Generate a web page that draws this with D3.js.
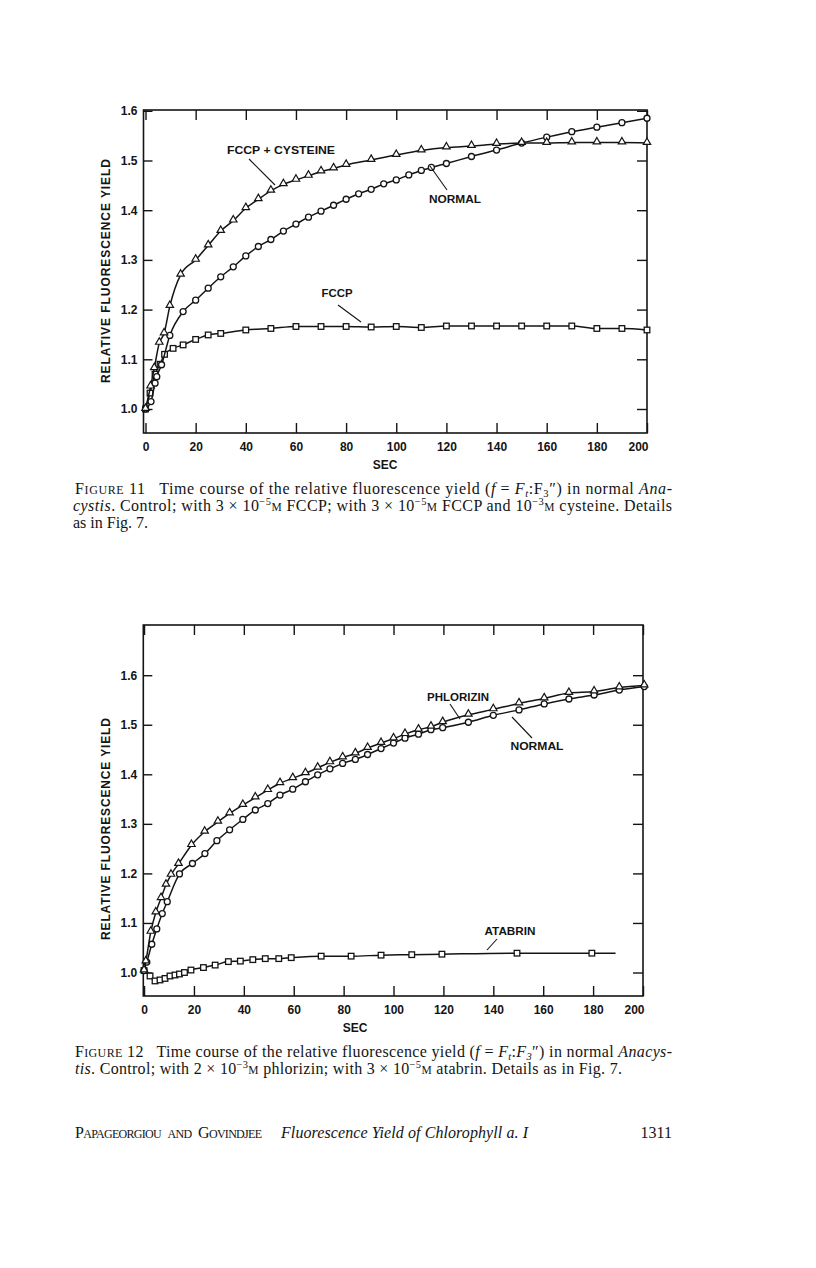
<!DOCTYPE html>
<html><head><meta charset="utf-8">
<script src="https://cdn.jsdelivr.net/npm/d3@7"></script>
<style>body{margin:0;background:#fff}svg{display:block}</style>
</head><body>
<svg id="page" width="816" height="1268"></svg>
<script>
// ---------------- DATA ----------------
const xTickValues = [0, 20, 40, 60, 80, 100, 120, 140, 160, 180, 200];
const yTickValues = [1.0, 1.1, 1.2, 1.3, 1.4, 1.5, 1.6];
const yTickLabels = ["1.0", "1.1", "1.2", "1.3", "1.4", "1.5", "1.6"];

// Figure 11
const fig11CysteineX = [0, 2, 3.5, 5.5, 7.4, 9.7, 14, 20, 25, 30, 35, 40, 45, 50, 55, 60, 65, 70, 75, 80, 90, 100, 110, 120, 130, 140, 150, 160, 170, 180, 190, 200];
const fig11CysteineY = [1.0, 1.045, 1.082, 1.133, 1.152, 1.207, 1.27, 1.30, 1.329, 1.358, 1.379, 1.404, 1.422, 1.439, 1.452, 1.461, 1.469, 1.478, 1.484, 1.491, 1.501, 1.511, 1.520, 1.526, 1.529, 1.533, 1.535, 1.535, 1.536, 1.536, 1.536, 1.535];
const fig11NormalX = [0, 2.2, 3.8, 4.5, 6.4, 9.7, 15, 20, 25, 30, 35, 40, 45, 50, 55, 60, 65, 70, 75, 80, 85, 90, 95, 100, 105, 110, 114, 120, 130, 140, 150, 160, 170, 180, 190, 200];
const fig11NormalY = [1.0, 1.015, 1.052, 1.065, 1.089, 1.148, 1.196, 1.219, 1.243, 1.266, 1.286, 1.308, 1.327, 1.341, 1.358, 1.372, 1.386, 1.398, 1.410, 1.422, 1.433, 1.442, 1.453, 1.461, 1.471, 1.480, 1.486, 1.494, 1.508, 1.521, 1.535, 1.547, 1.558, 1.567, 1.576, 1.585];
const fig11FccpX = [0, 1.8, 3.8, 5.8, 7.6, 11, 15, 20, 25, 30, 40, 50, 60, 70, 80, 90, 100, 110, 120, 130, 140, 150, 160, 170, 180, 190, 200];
const fig11FccpY = [1.0, 1.032, 1.07, 1.09, 1.11, 1.122, 1.129, 1.140, 1.149, 1.152, 1.159, 1.162, 1.166, 1.166, 1.166, 1.165, 1.166, 1.164, 1.167, 1.167, 1.167, 1.167, 1.167, 1.167, 1.162, 1.162, 1.159];

// Figure 12
const fig12PhlorizinX = [0, 0.7, 2.7, 4.7, 6.8, 8.8, 10.8, 13.8, 19, 24.3, 29.6, 34.3, 39.6, 44.6, 49.6, 54.5, 59.6, 64.7, 69.6, 74.5, 79.6, 84.7, 89.6, 95, 100, 104.6, 110, 115, 119.7, 130, 140, 150.3, 160.4, 170.3, 180.4, 190.5, 200.5];
const fig12PhlorizinY = [1.004, 1.022, 1.082, 1.121, 1.150, 1.177, 1.197, 1.219, 1.257, 1.284, 1.304, 1.321, 1.338, 1.353, 1.368, 1.382, 1.392, 1.402, 1.413, 1.424, 1.434, 1.442, 1.453, 1.463, 1.472, 1.481, 1.490, 1.496, 1.505, 1.520, 1.531, 1.543, 1.553, 1.564, 1.567, 1.575, 1.579];
const fig12NormalX = [0, 1.1, 3.1, 5.1, 7.3, 9.3, 14.2, 19.4, 24.4, 29.2, 34.3, 39.6, 44.6, 49.6, 54.5, 59.6, 64.7, 69.6, 74.5, 79.6, 84.7, 89.6, 95, 100, 104.6, 110, 115, 119.7, 130, 140, 150.3, 160.4, 170.3, 180.4, 190.5, 200.5];
const fig12NormalY = [1.004, 1.021, 1.057, 1.088, 1.119, 1.143, 1.199, 1.220, 1.240, 1.266, 1.288, 1.309, 1.328, 1.341, 1.358, 1.370, 1.385, 1.399, 1.411, 1.422, 1.430, 1.440, 1.452, 1.463, 1.473, 1.481, 1.490, 1.494, 1.505, 1.519, 1.530, 1.542, 1.552, 1.560, 1.570, 1.577];
const fig12AtabrinX = [0, 2.4, 4.4, 6.4, 8.4, 10.4, 12.4, 14.2, 16.2, 18.8, 23.8, 28.5, 33.8, 38.6, 43.6, 48.6, 54, 59, 71, 83, 95, 107.3, 119.4, 149.5, 179.5, 189];
const fig12AtabrinY = [1.004, 0.993, 0.983, 0.985, 0.988, 0.993, 0.995, 0.997, 1.0, 1.005, 1.010, 1.015, 1.022, 1.023, 1.026, 1.028, 1.028, 1.030, 1.033, 1.033, 1.035, 1.036, 1.037, 1.039, 1.039, 1.039];
const fig12AtabrinMarked = fig12AtabrinX.map((d, i) => i < fig12AtabrinX.length - 1); // line runs past last marker

// ---------------- DRAWING ----------------
const svg = d3.select("#page");
svg.append("rect").attr("width", 816).attr("height", 1268).attr("fill", "#fff");
const INK = "#141414";
const SANS = "'Liberation Sans', Arial, sans-serif";
const SERIF = "'Liberation Serif', 'Times New Roman', serif";

function zip(xs, ys) { return xs.map((x, i) => ({ x: x, y: ys[i] })); }

function drawChart(cfg) {
  const x = d3.scaleLinear().domain(cfg.xDomain).range(cfg.xRange);
  const y = d3.scaleLinear().domain(cfg.yDomain).range(cfg.yRange);
  const g = svg.append("g");
  const [L, R] = cfg.xRange, [B, T] = cfg.yRange;

  const ax = (sel) => sel.call(s => s.select(".domain").remove())
    .call(s => s.selectAll("line").attr("stroke", INK).attr("stroke-width", 1.4))
    .call(s => s.selectAll("text").attr("fill", INK).attr("font-family", SANS)
      .attr("font-weight", "bold").attr("font-size", 12));

  g.append("g").attr("transform", `translate(0,${B})`)
    .call(d3.axisBottom(x).tickValues(xTickValues).tickSize(-10).tickPadding(9))
    .call(ax)
    .call(s => s.selectAll(".tick text").attr("dx", d => d === 200 ? -9 : 0));
  g.append("g").attr("transform", `translate(0,${T})`)
    .call(d3.axisTop(x).tickValues(xTickValues).tickSize(-10).tickFormat(""))
    .call(ax);
  g.append("g").attr("transform", `translate(${L},0)`)
    .call(d3.axisLeft(y).tickValues(yTickValues).tickSize(-9).tickPadding(6)
      .tickFormat((d, i) => yTickLabels[i]))
    .call(ax);
  g.append("g").attr("transform", `translate(${R},0)`)
    .call(d3.axisRight(y).tickValues(yTickValues).tickSize(-10).tickFormat(""))
    .call(ax);

  g.append("rect").attr("x", L).attr("y", T).attr("width", R - L).attr("height", B - T)
    .attr("fill", "none").attr("stroke", INK).attr("stroke-width", 1.6);

  g.append("text").attr("x", cfg.secX).attr("y", B + 36).attr("text-anchor", "middle")
    .attr("font-family", SANS).attr("font-weight", "bold").attr("font-size", 12)
    .attr("fill", INK).text("SEC");
  g.append("text").attr("transform", `translate(${cfg.titleX},${cfg.titleY}) rotate(-90)`)
    .attr("text-anchor", "middle").attr("font-family", SANS).attr("font-weight", "bold")
    .attr("font-size", 12).attr("fill", INK)
    .attr("textLength", cfg.titleLen).attr("lengthAdjust", "spacing")
    .text("RELATIVE  FLUORESCENCE  YIELD");

  const line = d3.line().x(d => x(d.x)).y(d => y(d.y)).curve(d3.curveMonotoneX);

  cfg.series.forEach(s => {
    g.append("path").datum(s.data).attr("d", line).attr("fill", "none")
      .attr("stroke", INK).attr("stroke-width", 1.5);
    const pts = s.data.filter((d, i) => !s.marked || s.marked[i]);
    const mg = g.append("g");
    if (s.marker === "circle") {
      mg.selectAll("circle").data(pts).join("circle")
        .attr("cx", d => x(d.x)).attr("cy", d => y(d.y)).attr("r", 3)
        .attr("fill", "#fff").attr("stroke", INK).attr("stroke-width", 1.3);
    } else if (s.marker === "square") {
      mg.selectAll("rect").data(pts).join("rect")
        .attr("x", d => x(d.x) - 2.8).attr("y", d => y(d.y) - 2.8)
        .attr("width", 5.6).attr("height", 5.6)
        .attr("fill", "#fff").attr("stroke", INK).attr("stroke-width", 1.3);
    } else {
      mg.selectAll("path").data(pts).join("path")
        .attr("transform", d => `translate(${x(d.x)},${y(d.y) - 0.8})`)
        .attr("d", d3.symbol(d3.symbolTriangle, 24))
        .attr("fill", "#fff").attr("stroke", INK).attr("stroke-width", 1.2);
    }
  });

  cfg.labels.forEach(l => {
    g.append("text").attr("x", l.tx).attr("y", l.ty).attr("text-anchor", "middle")
      .attr("font-family", SANS).attr("font-weight", "bold").attr("font-size", 11.5)
      .attr("fill", INK).attr("textLength", l.len).attr("lengthAdjust", "spacingAndGlyphs")
      .text(l.text);
    g.append("line").attr("x1", l.l[0]).attr("y1", l.l[1]).attr("x2", l.l[2]).attr("y2", l.l[3])
      .attr("stroke", INK).attr("stroke-width", 1.1);
  });
}

// Figure 11
drawChart({
  xDomain: [-0.8, 200], xRange: [143.5, 647],
  yDomain: [0.9517, 1.6016], yRange: [433, 110],
  secX: 385, titleX: 110, titleY: 271, titleLen: 224,
  series: [
    { data: zip(fig11FccpX, fig11FccpY), marker: "square" },
    { data: zip(fig11NormalX, fig11NormalY), marker: "circle" },
    { data: zip(fig11CysteineX, fig11CysteineY), marker: "triangle" }
  ],
  labels: [
    { text: "FCCP + CYSTEINE", tx: 281, ty: 154, len: 108, l: [249, 159, 275, 185] },
    { text: "NORMAL", tx: 455, ty: 203, len: 52, l: [430, 166, 447, 190] },
    { text: "FCCP", tx: 337, ty: 297, len: 31, l: [338, 305, 361, 322] }
  ]
});

// Figure 12
drawChart({
  xDomain: [-0.3, 200], xRange: [143.3, 643],
  yDomain: [0.9526, 1.7013], yRange: [996, 625],
  secX: 355, titleX: 110, titleY: 829, titleLen: 222,
  series: [
    { data: zip(fig12AtabrinX, fig12AtabrinY), marker: "square", marked: fig12AtabrinMarked },
    { data: zip(fig12NormalX, fig12NormalY), marker: "circle" },
    { data: zip(fig12PhlorizinX, fig12PhlorizinY), marker: "triangle" }
  ],
  labels: [
    { text: "PHLORIZIN", tx: 458, ty: 701, len: 62, l: [450, 704, 460, 719] },
    { text: "NORMAL", tx: 537, ty: 750, len: 53, l: [512, 717, 532, 738] },
    { text: "ATABRIN", tx: 510, ty: 935, len: 51, l: [497, 939, 487, 950] }
  ]
});

// ---------------- CAPTIONS ----------------
const FS = 16;
function addLine(x, y, parts, len) {
  const t = svg.append("text").attr("x", x).attr("y", y)
    .attr("font-family", SERIF).attr("font-size", FS).attr("fill", INK)
    .attr("xml:space", "preserve");
  if (len) t.attr("textLength", len).attr("lengthAdjust", "spacing");
  parts.forEach(p => {
    const s = t.append("tspan").text(p.t);
    if (p.i) s.attr("font-style", "italic");
    if (p.fs) s.attr("font-size", p.fs);
    if (p.dy) s.attr("dy", p.dy);
  });
  return t;
}
const sup = (s) => [{ t: s, fs: 10.5, dy: -6 }];
const M = { t: "M", fs: 11.5, dy: 6 };
const SC = 12;

// Figure 11 caption
addLine(75, 494, [
  { t: "F" }, { t: "IGURE", fs: SC }, { t: " 11   Time course of the relative fluorescence yield (" },
  { t: "f", i: true }, { t: " = " }, { t: "F", i: true }, { t: "t", i: true, fs: 10.5, dy: 3 },
  { t: ":F", dy: -3 }, { t: "3", fs: 10.5, dy: 3 }, { t: "″) in normal ", dy: -3 }, { t: "Ana-", i: true }
], 597);
addLine(73, 511, [
  { t: "cystis", i: true }, { t: ". Control; with 3 × 10" }, ...sup("−5"), M,
  { t: " FCCP; with 3 × 10" }, ...sup("−5"), M, { t: " FCCP and 10" }, ...sup("−3"), M,
  { t: " cysteine. Details" }
], 599);
addLine(73, 528, [{ t: "as in Fig. 7." }]);

// Figure 12 caption
addLine(75, 1057, [
  { t: "F" }, { t: "IGURE", fs: SC }, { t: " 12   Time course of the relative fluorescence yield (" },
  { t: "f", i: true }, { t: " = " }, { t: "F", i: true }, { t: "t", i: true, fs: 10.5, dy: 3 },
  { t: ":", dy: -3 }, { t: "F", i: true }, { t: "3", i: true, fs: 10.5, dy: 3 },
  { t: "″) in normal ", dy: -3 }, { t: "Anacys-", i: true }
], 597);
addLine(75, 1074, [
  { t: "tis", i: true }, { t: ". Control; with 2 × 10" }, ...sup("−3"), M,
  { t: " phlorizin; with 3 × 10" }, ...sup("−5"), M, { t: " atabrin. Details as in Fig. 7." }
], 547);

// Footer
addLine(75, 1138, [
  { t: "P" }, { t: "APAGEORGIOU", fs: SC }, { t: "  " }, { t: "AND", fs: SC }, { t: "  G" },
  { t: "OVINDJEE", fs: SC }
], 187);
addLine(281, 1138, [{ t: "Fluorescence Yield of Chlorophyll a. I", i: true }], 247);
svg.append("text").attr("x", 672).attr("y", 1138).attr("text-anchor", "end")
  .attr("font-family", SERIF).attr("font-size", FS).attr("fill", INK).text("1311");
</script>
</body></html>
